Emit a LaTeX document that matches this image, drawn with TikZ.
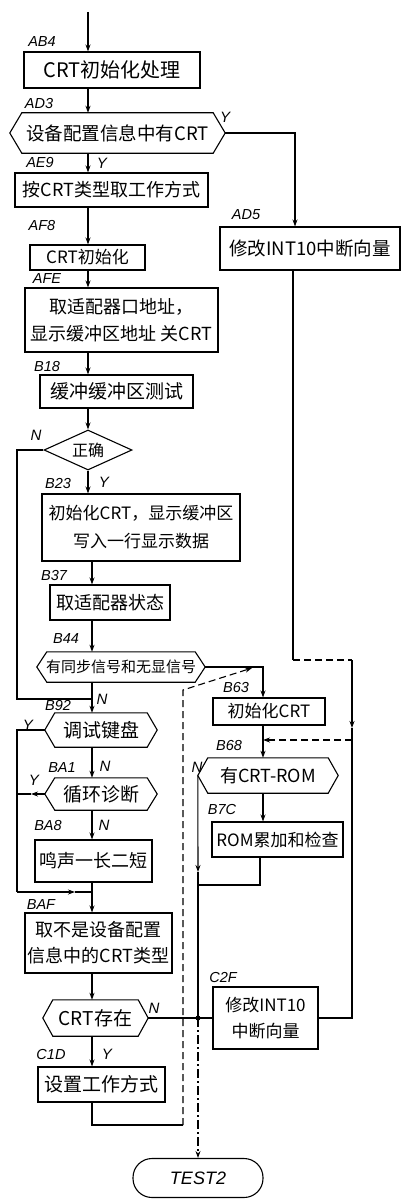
\documentclass[tikz,border=0pt]{standalone}
\usepackage{fontspec}
\setmainfont{Liberation Sans}
\newfontfamily\cjk{Noto Sans CJK SC}
\usetikzlibrary{shapes.geometric,arrows.meta,calc}
\begin{document}
\begin{tikzpicture}[x=1pt,y=-1pt,
  flow/.style={line width=1.1pt},
  arr/.style={flow,-{Stealth[length=7pt,width=5pt]}},
  dashflow/.style={flow,dash pattern=on 7pt off 4pt},
  box/.style={draw,line width=1.1pt,rectangle,inner sep=0pt,align=center,font=\cjk\fontsize{18}{26}\selectfont},
  hexa/.style={rectangle,inner sep=0pt,align=center,font=\cjk\fontsize{18}{22}\selectfont},
  lbl/.style={font=\itshape\fontsize{14.5}{14.5}\selectfont,inner sep=0pt},
  yn/.style={font=\itshape\fontsize{15}{15}\selectfont,inner sep=0pt}]
\useasboundingbox (0,0) rectangle (405,1204);
\fill[white] (0,0) rectangle (405,1204);
% ---------- nodes ----------
\node[box,minimum width=176pt,minimum height=36pt,font=\cjk\fontsize{20}{24}\selectfont] (ab4) at (112,70) {CRT初始化处理};
\node[hexa,minimum width=215pt,minimum height=40pt,font=\cjk\fontsize{18.5}{22}\selectfont] (ad3) at (117.5,133) {设备配置信息中有CRT};
\node[box,minimum width=193pt,minimum height=34pt] (ae9) at (111.5,190) {按CRT类型取工作方式};
\node[box,minimum width=115pt,minimum height=25pt,font=\cjk\fontsize{17}{20}\selectfont] (af8) at (87.5,257.5) {CRT初始化};
\node[box,minimum width=193pt,minimum height=64pt,font=\cjk\fontsize{18}{27}\selectfont] (afe) at (121.5,320) {取适配器口地址，\\显示缓冲区地址\ 关CRT};
\node[box,minimum width=153pt,minimum height=33pt,font=\cjk\fontsize{19}{22}\selectfont] (b18) at (116.5,391.5) {缓冲缓冲区测试};
\node[diamond,draw,line width=1.1pt,aspect=2.2,inner sep=0pt,minimum width=88pt,minimum height=40pt,font=\cjk\fontsize{16}{18}\selectfont] (ok) at (88,450) {正确};
\node[box,minimum width=198pt,minimum height=67pt,font=\cjk\fontsize{17}{28}\selectfont] (b23) at (141,527.5) {初始化CRT，显示缓冲区\\写入一行显示数据};
\node[box,minimum width=120pt,minimum height=35pt] (b37) at (110,602.5) {取适配器状态};
\node[hexa,minimum width=168pt,minimum height=30pt,font=\cjk\fontsize{15}{18}\selectfont] (b44) at (121,667) {有同步信号和无显信号};
\node[hexa,minimum width=112pt,minimum height=34pt,font=\cjk\fontsize{19}{22}\selectfont] (b92) at (101,730) {调试键盘};
\node[hexa,minimum width=112pt,minimum height=32pt,font=\cjk\fontsize{19}{22}\selectfont] (ba1) at (101,794) {循环诊断};
\node[box,minimum width=117pt,minimum height=42pt] (ba8) at (93.5,861) {鸣声一长二短};
\node[box,minimum width=147pt,minimum height=60pt,font=\cjk\fontsize{18}{26}\selectfont] (baf) at (98.5,943) {取不是设备配置\\信息中的CRT类型};
\node[hexa,minimum width=105pt,minimum height=36pt,font=\cjk\fontsize{19}{22}\selectfont] (crt) at (95.5,1018) {CRT存在};
\node[box,minimum width=127pt,minimum height=35pt,font=\cjk\fontsize{19}{22}\selectfont] (c1d) at (101.5,1084.5) {设置工作方式};
\node[box,minimum width=180pt,minimum height=43pt,font=\cjk\fontsize{18.5}{22}\selectfont] (ad5) at (310,248.5) {修改INT10中断向量};
\node[box,minimum width=112pt,minimum height=27pt,font=\cjk\fontsize{17}{20}\selectfont] (b63) at (269,711.5) {初始化CRT};
\node[hexa,minimum width=140pt,minimum height=35pt,font=\cjk\fontsize{18}{22}\selectfont] (b68) at (268,775.5) {有CRT-ROM};
\node[box,minimum width=131pt,minimum height=35pt,font=\cjk\fontsize{17}{20}\selectfont] (b7c) at (277.5,839.5) {ROM累加和检查};
\node[box,minimum width=105pt,minimum height=62pt,font=\cjk\fontsize{17}{26}\selectfont] (c2f) at (265.5,1018) {修改INT10\\中断向量};
\node[draw,line width=1.1pt,rounded corners=19pt,minimum width=130pt,minimum height=39pt,font=\itshape\fontsize{18}{18}\selectfont] (t2) at (198,1178) {TEST2};
% hexagon outlines
\foreach \n/\d in {ad3/12,b44/10,b92/10,ba1/10,b68/10,crt/10}{
  \draw[flow] (\n.west) -- ($(\n.north west)+(\d,0)$) -- ($(\n.north east)+(-\d,0)$) -- (\n.east)
     -- ($(\n.south east)+(-\d,0)$) -- ($(\n.south west)+(\d,0)$) -- cycle;
}
% ---------- address labels ----------
\node[lbl] (lab1) at (42,42) {AB4};
\node[lbl] (lab2) at (39,104) {AD3};
\node[lbl] (lab3) at (40,163) {AE9};
\node[lbl] (lab4) at (42,226) {AF8};
\node[lbl] (lab5) at (47,279) {AFE};
\node[lbl] (lab6) at (47,367) {B18};
\node[lbl] (lab7) at (58,484) {B23};
\node[lbl] (lab8) at (54,576) {B37};
\node[lbl] (lab9) at (66,639) {B44};
\node[lbl] (lab10) at (58,706) {B92};
\node[lbl] (lab11) at (62,768) {BA1};
\node[lbl] (lab12) at (48,826) {BA8};
\node[lbl] (lab13) at (41,905) {BAF};
\node[lbl] (lab14) at (51,1054) {C1D};
\node[lbl] (lab15) at (246,215) {AD5};
\node[lbl] (lab16) at (236,688) {B63};
\node[lbl] (lab17) at (229,745) {B68};
\node[lbl] (lab18) at (222,809) {B7C};
\node[lbl] (lab19) at (223,977) {C2F};
% ---------- Y / N ----------
\node[yn] (yn1) at (225,117) {Y};
\node[yn] (yn2) at (102,163) {Y};
\node[yn] (yn3) at (36,435) {N};
\node[yn] (yn4) at (104,482) {Y};
\node[yn] (yn5) at (102,699) {N};
\node[yn] (yn6) at (28,725) {Y};
\node[yn] (yn7) at (105,766) {N};
\node[yn] (yn8) at (34,780) {Y};
\node[yn] (yn9) at (104,825) {N};
\node[yn] (yn10) at (197,767) {N};
\node[yn] (yn11) at (154,1008) {N};
\node[yn] (yn12) at (107,1054) {Y};
% ---------- coordinates ----------
\coordinate (start) at (88,12);
\coordinate (L) at (88,0);
\coordinate (M) at (92,0);
\coordinate (lx) at (17,0);
\coordinate (R1) at (295,0);
\coordinate (R2) at (263,0);
\coordinate (R3) at (293,0);
\coordinate (R4) at (352,0);
\coordinate (R5) at (260,0);
\coordinate (D1) at (183,0);
\coordinate (yA) at (0,660);
\coordinate (yB) at (0,740);
\coordinate (yC) at (0,885);
\coordinate (yD) at (0,1125);
\coordinate (yE) at (0,690);
\coordinate (j1) at (92,699);
\coordinate (j3) at (92,892);
\coordinate (J2) at (198,1018);
\coordinate (a1) at (352,728);
\coordinate (a2) at (198,872);
\coordinate (a3) at (75,892);
\coordinate (a4) at (31,0);
\coordinate (a5) at (252,668);
% ---------- connectors ----------
\draw[arr] (start) -- (ab4.north -| L);
\draw[arr] (ab4.south -| L) -- (ad3.north -| L);
\draw[arr] (ad3.south -| L) -- (ae9.north -| L);
\draw[arr] (ad3.east) -| (ad5.north -| R1);
\draw[arr] (ae9.south -| L) -- (af8.north -| L);
\draw[arr] (af8.south -| L) -- (afe.north -| L);
\draw[arr] (afe.south -| L) -- (b18.north -| L);
\draw[arr] (b18.south -| L) -- (ok.north);
\draw[arr] (ok.south) -- (b23.north -| L);
\draw[flow] (ok.west) -| (lx |- j1) -- (j1);
\draw[arr] (b23.south -| M) -- (b37.north -| M);
\draw[arr] (b37.south -| M) -- (b44.north -| M);
\draw[arr] (b44.south -| M) -- (b92.north -| M);
\draw[arr] (b44.east) -| (b63.north -| R2);
\draw[arr] (b63.south -| R2) -- (b68.north -| R2);
\draw[arr] (b68.south -| R2) -- (b7c.north -| R2);
\draw[flow] (ad5.south -| R3) -- (R3 |- yA);
\draw[dashflow] (R3 |- yA) -- (R4 |- yA);
\draw[arr] (R4 |- yA) -- (a1);
\draw[flow] (a1) -- (R4 |- c2f.east) -- (c2f.east);
\draw[dashflow,-{Stealth[length=7pt,width=5pt]}] (R4 |- yB) -- (R2 |- yB);
\draw[arr] (b68.west) -- (a2);
\draw[flow] (a2) -- (J2);
\draw[flow] (b7c.south -| R5) -- (R5 |- yC) -- (J2 |- yC);
\draw[flow] (b92.west) -- (lx |- b92.west) -- (lx |- j3);
\draw[arr] (lx |- j3) -- (a3);
\draw[flow] (a3) -- (j3);
\draw[arr] (ba1.west) -- (a4 |- ba1.west);
\draw[flow] (a4 |- ba1.west) -- (lx |- ba1.west);
\draw[arr] (b92.south -| M) -- (ba1.north -| M);
\draw[arr] (ba1.south -| M) -- (ba8.north -| M);
\draw[flow] (ba8.south -| M) -- (j3);
\draw[arr] (j3) -- (baf.north -| M);
\draw[arr] (baf.south -| M) -- (crt.north -| M);
\draw[flow] (crt.east) -- (c2f.west);
\fill (J2) circle (2.5pt);
\draw[arr] (crt.south -| M) -- (c1d.north -| M);
\draw[flow] (c1d.south -| M) -- (M |- yD) -- (D1 |- yD);
\draw[dashflow,-{Stealth[length=7pt,width=5pt]}] (D1 |- yD) -- (D1 |- yE) -- (a5);
\draw[arr,dash pattern=on 9pt off 3pt on 2pt off 3pt] (J2) -- (t2.north -| J2);
\end{tikzpicture}
\end{document}
